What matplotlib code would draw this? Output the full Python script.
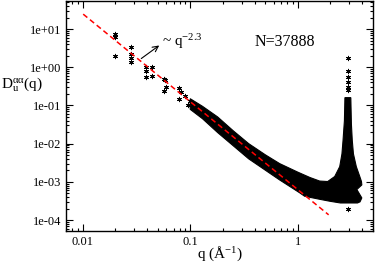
import numpy as np
import matplotlib
matplotlib.use('Agg')
import matplotlib.pyplot as plt

plt.rcParams['font.family'] = ['Liberation Serif', 'DejaVu Serif']
plt.rcParams['mathtext.fontset'] = 'custom'
plt.rcParams['mathtext.rm'] = 'Liberation Serif'
plt.rcParams['mathtext.it'] = 'Liberation Serif:italic'

# scattered points at low q and above the Bragg peak
star_q = [0.020, 0.020, 0.020, 0.028, 0.028, 0.028, 0.028,
          0.039, 0.039, 0.039, 0.044, 0.044, 0.057, 0.058, 0.057, 0.060,
          0.078, 0.078, 0.082, 0.090, 0.099, 0.095,
          2.94, 2.94, 2.94, 2.94, 2.94, 2.94, 2.94]
star_D = [7.3, 6.2, 2.0, 3.3, 2.2, 1.7, 1.35,
          1.0, 0.8, 0.55, 1.0, 0.6, 0.5, 0.45, 0.24, 0.3,
          0.29, 0.15, 0.22, 0.18, 0.13, 0.10,
          1.7, 0.8, 0.54, 0.40, 0.30, 0.25, 1.9e-4]

# outline of the dense cloud of points (upper edge, then lower edge back)
band_q = [0.10, 0.13, 0.18, 0.25, 0.35, 0.50, 0.68, 1.0, 1.3, 1.6, 1.9,
          2.21, 2.46, 2.58, 2.64, 2.72, 2.75, 3.12, 3.16, 3.22, 3.30,
          3.51, 3.78, 3.92, 3.95, 3.55, 3.95,
          3.80, 3.60, 2.50, 2.00, 1.60, 1.16, 1.04, 0.68, 0.35, 0.18, 0.13, 0.10]
band_D = [0.15, 0.095, 0.050, 0.022, 0.010, 0.0051, 0.0030, 0.0018, 0.0013, 0.00105, 0.00102,
          0.00138, 0.0025, 0.0054, 0.012, 0.040, 0.16, 0.16, 0.032, 0.012, 0.0054,
          0.0025, 0.00138, 0.00102, 0.00083, 0.00063, 0.00038,
          0.0003, 0.00028, 0.00028, 0.00031, 0.00035, 0.00042, 0.00052, 0.00112, 0.0040, 0.0195, 0.045, 0.079]

# power law fit  D ~ q^-2.3
fit_q = np.array([0.0101, 1.94])
fit_amp = 6.3e-4
fit_exp = -2.3

fig = plt.figure(figsize=(3.82, 2.63), dpi=100)
ax = fig.add_axes([0.173, 0.122, 0.803, 0.874])

ax.fill(band_q, band_D, color='black', lw=0.8, ec='black')
ax.scatter(star_q, star_D, marker=(6, 2, 0), s=10, color='black', lw=0.7)
ax.plot(fit_q, fit_amp * fit_q ** fit_exp, color='red', ls=(0, (3.5, 2.2)), lw=1.1)

ax.set_xscale('log')
ax.set_yscale('log')
ax.set_xlim(0.007, 5.0)
ax.set_ylim(5.2e-5, 54)
ax.set_yticks([1e-4, 1e-3, 1e-2, 1e-1, 1, 10])
ax.set_yticklabels(['1e-04', '1e-03', '1e-02', '1e-01', '1e+00', '1e+01'])
ax.set_xticks([0.01, 0.1, 1])
ax.set_xticklabels(['0.01', '0.1', '1'])
ax.tick_params(which='both', direction='in', top=True, right=True, labelsize=9, width=0.8)
ax.tick_params(which='major', length=5)
ax.tick_params(which='minor', length=2.5)
for s in ax.spines.values():
    s.set_linewidth(1.0)

ax.set_xlabel(r'q (Å$^{\mathregular{-1}}$)', fontsize=11, labelpad=-2)
ax.set_ylabel(r'$\mathregular{D_u^{\alpha\alpha}(q)}$', fontsize=11, rotation=0, labelpad=0)
ax.yaxis.set_label_coords(-0.145, 0.6)

ax.annotate('', xy=(0.054, 4.1), xytext=(0.0334, 1.53),
            arrowprops=dict(arrowstyle='->', color='black', lw=0.8))
ax.text(0.055, 3.6, r'~ q$^{\mathregular{-2.3}}$', fontsize=11, va='baseline')
ax.text(0.40, 3.6, 'N=37888', fontsize=11.5, va='baseline')

fig.savefig('out.png', dpi=100)
